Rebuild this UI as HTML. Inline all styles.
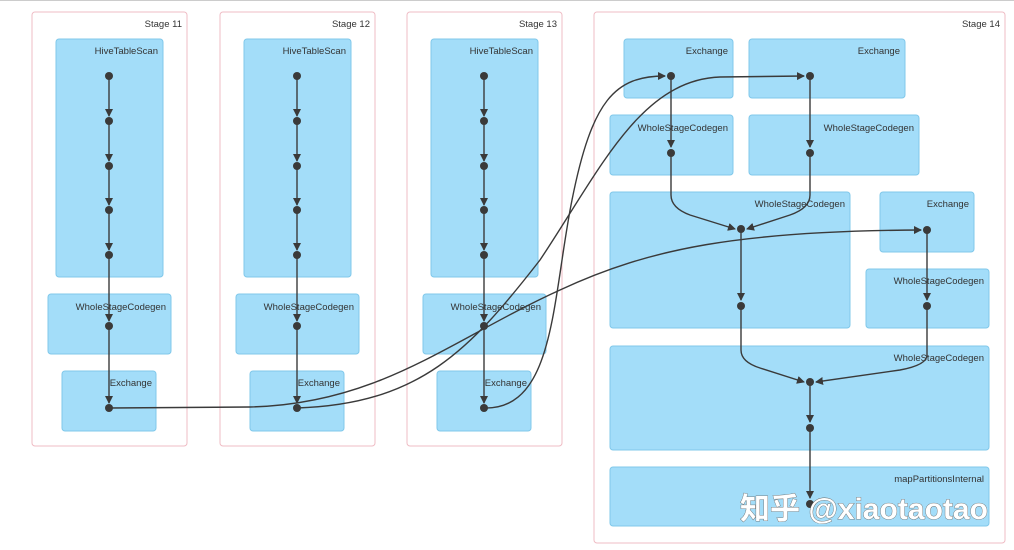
<!DOCTYPE html>
<html><head><meta charset="utf-8"><style>
body{margin:0;background:#fff;}
svg{display:block;font-family:"Liberation Sans",sans-serif;}
.st{fill:#fff;stroke:#efbcc4;stroke-width:1}
.b{fill:#a3ddf9;stroke:#80c8ea;stroke-width:1}
.t{font-size:9.5px;fill:#333;text-anchor:end}
.e{fill:none;stroke:#3a3a3a;stroke-width:1.4}
.n{fill:#3a3a3a}
</style></head><body>
<svg width="1014" height="550" viewBox="0 0 1014 550">
<defs><marker id="a" markerWidth="8" markerHeight="8" refX="7" refY="4" orient="auto" markerUnits="userSpaceOnUse"><path d="M0,0 L8,4 L0,8Z" fill="#3a3a3a"/></marker></defs>
<rect x="0" y="0" width="1014" height="550" fill="#fff"/>
<line x1="0" y1="0.5" x2="1014" y2="0.5" stroke="#ccc"/>
<g id="s11">
<rect class="st" x="32" y="12" width="155" height="434" rx="3"/>
<rect class="b" x="56" y="39" width="107" height="238" rx="3"/><text class="t" x="158" y="54">HiveTableScan</text>
<rect class="b" x="48" y="294" width="123" height="60" rx="3"/><text class="t" x="166" y="310">WholeStageCodegen</text>
<rect class="b" x="62" y="371" width="94" height="60" rx="3"/><text class="t" x="152" y="386">Exchange</text>
<path class="e" d="M109,76 L109,116" marker-end="url(#a)"/><path class="e" d="M109,121 L109,161" marker-end="url(#a)"/><path class="e" d="M109,166 L109,205" marker-end="url(#a)"/><path class="e" d="M109,210 L109,250" marker-end="url(#a)"/><path class="e" d="M109,255 L109,321" marker-end="url(#a)"/><path class="e" d="M109,326 L109,403" marker-end="url(#a)"/>
<g class="n"><circle cx="109" cy="76" r="4"/><circle cx="109" cy="121" r="4"/><circle cx="109" cy="166" r="4"/><circle cx="109" cy="210" r="4"/><circle cx="109" cy="255" r="4"/><circle cx="109" cy="326" r="4"/><circle cx="109" cy="408" r="4"/></g>
</g>
<use href="#s11" x="188"/>
<use href="#s11" x="375"/>
<text class="t" x="182" y="27">Stage 11</text>
<text class="t" x="370" y="27">Stage 12</text>
<text class="t" x="557" y="27">Stage 13</text>
<g>
<rect class="st" x="594" y="12" width="411" height="531" rx="3"/>
<text class="t" x="1000" y="27">Stage 14</text>
<rect class="b" x="624" y="39" width="109" height="59" rx="3"/><text class="t" x="728" y="54">Exchange</text>
<rect class="b" x="749" y="39" width="156" height="59" rx="3"/><text class="t" x="900" y="54">Exchange</text>
<rect class="b" x="610" y="115" width="123" height="60" rx="3"/><text class="t" x="728" y="131">WholeStageCodegen</text>
<rect class="b" x="749" y="115" width="170" height="60" rx="3"/><text class="t" x="914" y="131">WholeStageCodegen</text>
<rect class="b" x="610" y="192" width="240" height="136" rx="3"/><text class="t" x="845" y="207">WholeStageCodegen</text>
<rect class="b" x="880" y="192" width="94" height="60" rx="3"/><text class="t" x="969" y="207">Exchange</text>
<rect class="b" x="866" y="269" width="123" height="59" rx="3"/><text class="t" x="984" y="284">WholeStageCodegen</text>
<rect class="b" x="610" y="346" width="379" height="104" rx="3"/><text class="t" x="984" y="361">WholeStageCodegen</text>
<rect class="b" x="610" y="467" width="379" height="59" rx="3"/><text class="t" x="984" y="482">mapPartitionsInternal</text>
</g>
<path class="e" d="M109,408 L250,407 C380,404 450,340 560,290 C650,248 740,231 921,230" marker-end="url(#a)"/>
<path class="e" d="M297,408 C420,404 470,350 540,260 C600,170 640,80 720,77 L804,76" marker-end="url(#a)"/>
<path class="e" d="M484,408 C555,410 552,300 572,200 C592,100 615,76 665,76" marker-end="url(#a)"/>
<path class="e" d="M671,76 L671,147" marker-end="url(#a)"/>
<path class="e" d="M810,76 L810,147" marker-end="url(#a)"/>
<path class="e" d="M671,153 L671,195 Q671,208 690,215 L735,229" marker-end="url(#a)"/>
<path class="e" d="M810,153 L810,195 Q810,208 790,215 L747,229" marker-end="url(#a)"/>
<path class="e" d="M741,229 L741,300" marker-end="url(#a)"/>
<path class="e" d="M927,230 L927,300" marker-end="url(#a)"/>
<path class="e" d="M741,306 L741,350 Q741,362 760,368 L804,382" marker-end="url(#a)"/>
<path class="e" d="M927,306 L927,355 Q927,365 900,370 L816,382" marker-end="url(#a)"/>
<path class="e" d="M810,382 L810,422" marker-end="url(#a)"/>
<path class="e" d="M810,428 L810,498" marker-end="url(#a)"/>
<g class="n"><circle cx="671" cy="76" r="4"/><circle cx="810" cy="76" r="4"/><circle cx="671" cy="153" r="4"/><circle cx="810" cy="153" r="4"/><circle cx="741" cy="229" r="4"/><circle cx="927" cy="230" r="4"/><circle cx="741" cy="306" r="4"/><circle cx="927" cy="306" r="4"/><circle cx="810" cy="382" r="4"/><circle cx="810" cy="428" r="4"/><circle cx="810" cy="504" r="4"/></g>
<text x="740" y="519" textLength="248" lengthAdjust="spacingAndGlyphs" style="font-family:'Liberation Sans','Noto Sans CJK SC',sans-serif;font-size:30px;font-weight:bold;fill:#fff;stroke:#666;stroke-width:0.8;paint-order:stroke">知乎 @xiaotaotao</text>
</svg>
</body></html>
